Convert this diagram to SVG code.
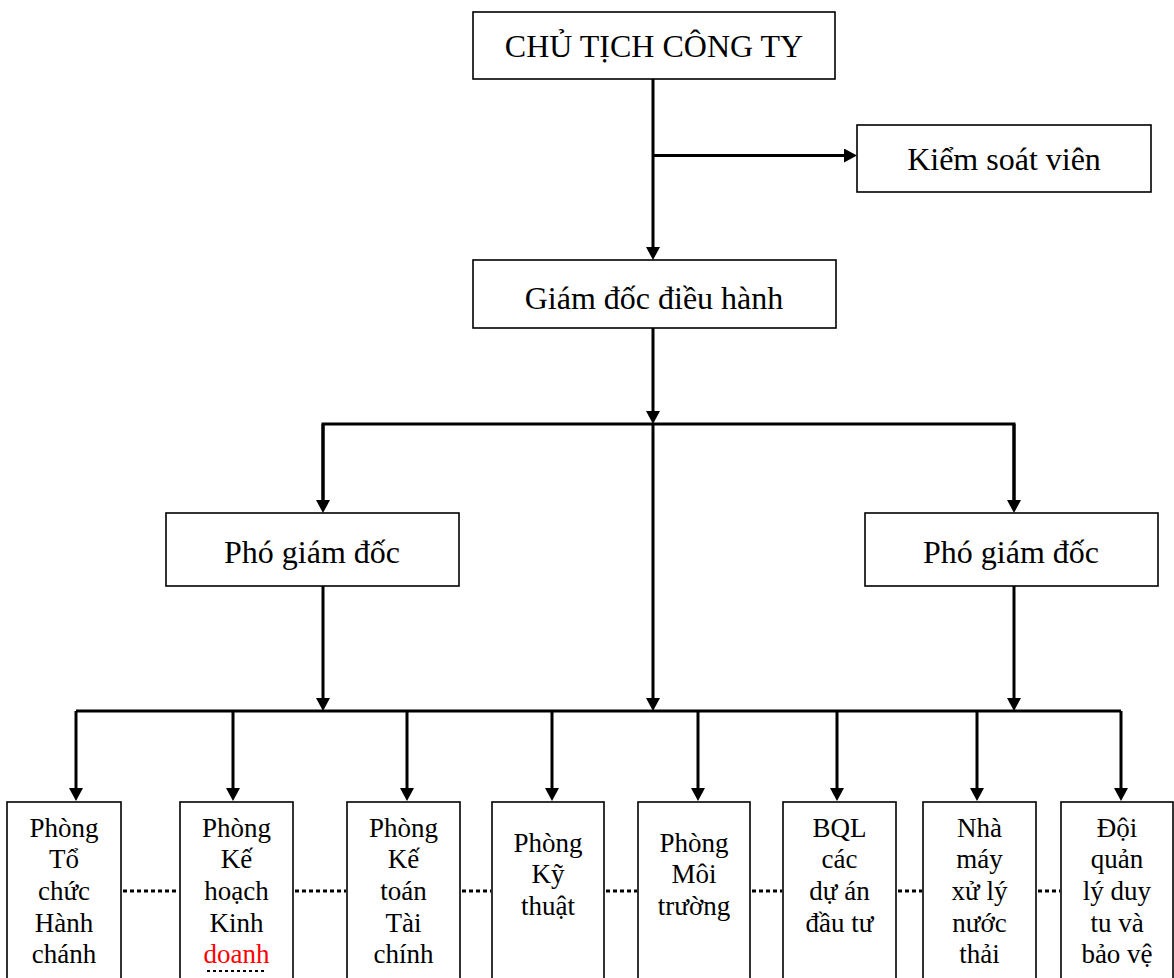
<svg xmlns="http://www.w3.org/2000/svg" width="1174" height="978" viewBox="0 0 1174 978">
<style>
.box{fill:#fff;stroke:#000;stroke-width:1.6}
.t{font-family:"Liberation Serif","Times New Roman",serif;font-size:32px;fill:#000;text-anchor:middle}
.s{font-family:"Liberation Serif","Times New Roman",serif;font-size:27px;fill:#000;text-anchor:middle}
.ln{stroke:#000;stroke-width:3;fill:none}
.ar{stroke:#000;stroke-width:3;fill:none;marker-end:url(#ah)}
.dot{stroke:#000;stroke-width:3;stroke-dasharray:4 3;fill:none}
</style>
<defs>
<marker id="ah" viewBox="0 0 13 14" refX="0" refY="7" markerWidth="13" markerHeight="14" markerUnits="userSpaceOnUse" orient="auto">
<path d="M0,0 L13,7 L0,14 z" fill="#000"/>
</marker>
</defs>
<rect width="1174" height="978" fill="#fff"/>
<g id="connectors">
<line class="ln" x1="653" y1="79" x2="653" y2="155"/>
<line class="ar" x1="653" y1="155" x2="653" y2="247"/>
<line class="ar" x1="653" y1="155.5" x2="844" y2="155.5"/>
<line class="ar" x1="653" y1="328" x2="653" y2="411"/>
<line class="ar" x1="653" y1="424" x2="653" y2="698"/>
<polyline class="ln" points="323,500 323,424 1014,424 1014,500"/>
<line class="ar" x1="323" y1="424" x2="323" y2="500"/>
<line class="ar" x1="1014" y1="424" x2="1014" y2="500"/>
<line class="ar" x1="323" y1="586" x2="323" y2="698"/>
<line class="ar" x1="1014" y1="586" x2="1014" y2="698"/>
<line class="ln" x1="76" y1="711" x2="1121" y2="711"/>
<line class="ar" x1="76" y1="711" x2="76" y2="788"/>
<line class="ar" x1="233" y1="711" x2="233" y2="788"/>
<line class="ar" x1="407" y1="711" x2="407" y2="788"/>
<line class="ar" x1="552" y1="711" x2="552" y2="788"/>
<line class="ar" x1="698" y1="711" x2="698" y2="788"/>
<line class="ar" x1="837" y1="711" x2="837" y2="788"/>
<line class="ar" x1="977" y1="711" x2="977" y2="788"/>
<line class="ar" x1="1121" y1="711" x2="1121" y2="788"/>
<line class="dot" x1="123" y1="891" x2="179" y2="891"/>
<line class="dot" x1="295" y1="891" x2="346" y2="891"/>
<line class="dot" x1="462" y1="891" x2="491" y2="891"/>
<line class="dot" x1="606" y1="891" x2="637" y2="891"/>
<line class="dot" x1="752" y1="891" x2="782" y2="891"/>
<line class="dot" x1="898" y1="891" x2="922" y2="891"/>
<line class="dot" x1="1038" y1="891" x2="1060" y2="891"/>
</g>
<g id="chu-tich">
<rect class="box" x="473" y="12" width="362" height="67"/>
<text class="t" x="654" y="57">CHỦ TỊCH CÔNG TY</text>
</g>
<g id="kiem-soat-vien">
<rect class="box" x="857" y="125" width="294" height="67"/>
<text class="t" x="1004" y="170">Kiểm soát viên</text>
</g>
<g id="giam-doc">
<rect class="box" x="473" y="260" width="363" height="68"/>
<text class="t" x="654" y="309">Giám đốc điều hành</text>
</g>
<g id="pho-giam-doc-1">
<rect class="box" x="166" y="513" width="293" height="73"/>
<text class="t" x="312" y="563">Phó giám đốc</text>
</g>
<g id="pho-giam-doc-2">
<rect class="box" x="865" y="513" width="293" height="73"/>
<text class="t" x="1011" y="563">Phó giám đốc</text>
</g>
<g id="phong-to-chuc">
<rect class="box" x="7" y="802" width="114" height="190"/>
<text class="s" x="64" y="837">Phòng</text>
<text class="s" x="64" y="868">Tổ</text>
<text class="s" x="64" y="900">chức</text>
<text class="s" x="64" y="932">Hành</text>
<text class="s" x="64" y="963">chánh</text>
</g>
<g id="phong-ke-hoach">
<rect class="box" x="180" y="802" width="113" height="190"/>
<text class="s" x="236.5" y="837">Phòng</text>
<text class="s" x="236.5" y="868">Kế</text>
<text class="s" x="236.5" y="900">hoạch</text>
<text class="s" x="236.5" y="932">Kinh</text>
<text class="s" x="236.5" y="963" fill="#ff0000" style="fill:#ff0000">doanh</text>
<line x1="207" y1="971" x2="264" y2="971" stroke="#000" stroke-width="2" stroke-dasharray="3 3"/>
</g>
<g id="phong-ke-toan">
<rect class="box" x="347" y="802" width="113" height="190"/>
<text class="s" x="403.5" y="837">Phòng</text>
<text class="s" x="403.5" y="868">Kế</text>
<text class="s" x="403.5" y="900">toán</text>
<text class="s" x="403.5" y="932">Tài</text>
<text class="s" x="403.5" y="963">chính</text>
</g>
<g id="phong-ky-thuat">
<rect class="box" x="492" y="802" width="112" height="190"/>
<text class="s" x="548" y="852">Phòng</text>
<text class="s" x="548" y="883">Kỹ</text>
<text class="s" x="548" y="915">thuật</text>
</g>
<g id="phong-moi-truong">
<rect class="box" x="638" y="802" width="112" height="190"/>
<text class="s" x="694" y="852">Phòng</text>
<text class="s" x="694" y="883">Môi</text>
<text class="s" x="694" y="915">trường</text>
</g>
<g id="bql">
<rect class="box" x="783" y="802" width="113" height="190"/>
<text class="s" x="839.5" y="837">BQL</text>
<text class="s" x="839.5" y="868">các</text>
<text class="s" x="839.5" y="900">dự án</text>
<text class="s" x="839.5" y="932">đầu tư</text>
</g>
<g id="nha-may">
<rect class="box" x="923" y="802" width="113" height="190"/>
<text class="s" x="979.5" y="837">Nhà</text>
<text class="s" x="979.5" y="868">máy</text>
<text class="s" x="979.5" y="900">xử lý</text>
<text class="s" x="979.5" y="932">nước</text>
<text class="s" x="979.5" y="963">thải</text>
</g>
<g id="doi-quan-ly">
<rect class="box" x="1061" y="802" width="112" height="190"/>
<text class="s" x="1117" y="837">Đội</text>
<text class="s" x="1117" y="868">quản</text>
<text class="s" x="1117" y="900">lý duy</text>
<text class="s" x="1117" y="932">tu và</text>
<text class="s" x="1117" y="963">bảo vệ</text>
</g>
</svg>
